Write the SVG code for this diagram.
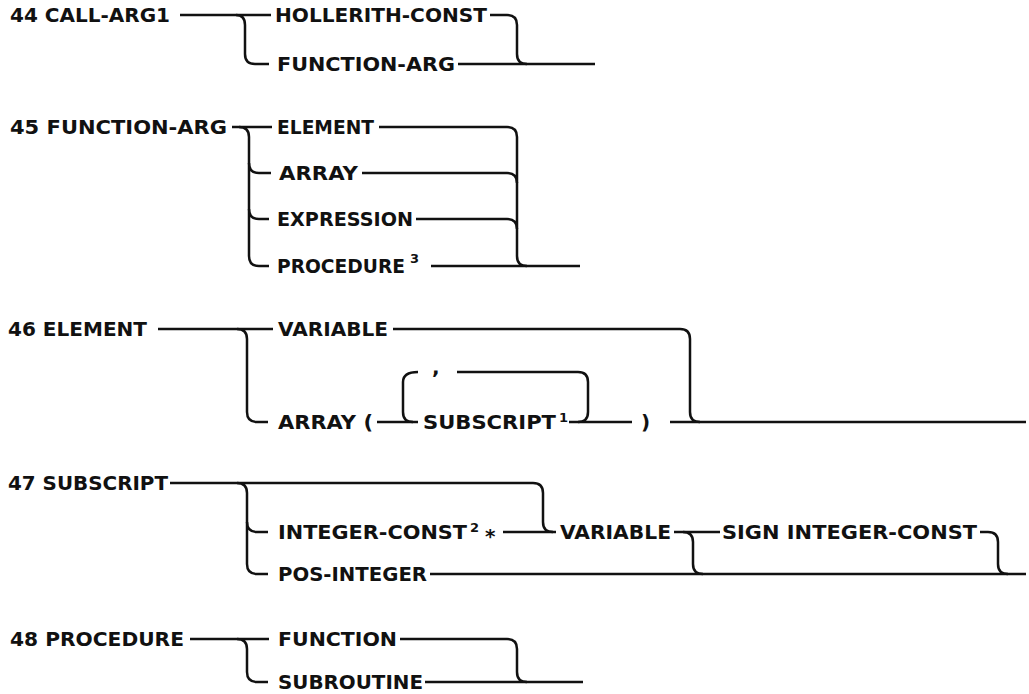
<svg xmlns="http://www.w3.org/2000/svg" width="1029" height="694" viewBox="0 0 1029 694">
<style>
text { font-family: "DejaVu Sans", "Liberation Sans", Arial, sans-serif; font-weight: bold; font-size: 20px; fill: #111; }
.sup { font-size: 13px; }
.conn path { fill: none; stroke: #111; stroke-width: 2.5; stroke-linecap: butt; stroke-linejoin: round; }
</style>
<rect width="1029" height="694" fill="#fff"/>
<g class="conn" id="connectors">
  <!-- 44 -->
  <path d="M180,15 H271"/>
  <path d="M236,15 Q245,15 245,25 V54 Q245,64 255,64 H269"/>
  <path d="M490,15 H507 Q517,15 517,25 V54 Q517,64 527,64"/>
  <path d="M458,64 H595"/>
  <!-- 45 -->
  <path d="M232,127 H272"/>
  <path d="M239,127 Q249,127 249,137 V256 Q249,266 259,266 H269"/>
  <path d="M249,163 Q249,173 259,173 H271"/>
  <path d="M249,209 Q249,219 259,219 H269"/>
  <path d="M379,127 H507 Q517,127 517,137 V256 Q517,266 527,266"/>
  <path d="M362,173 H507 Q517,173 517,183"/>
  <path d="M416,219 H507 Q517,219 517,229"/>
  <path d="M431,266 H580"/>
  <!-- 46 -->
  <path d="M158,329 H273"/>
  <path d="M237,329 Q247,329 247,339 V412 Q247,422 257,422 H268"/>
  <path d="M393,329 H680 Q690,329 690,339 V412 Q690,422 700,422"/>
  <path d="M670,422 H1026"/>
  <path d="M377,422 H418"/>
  <path d="M418,372 Q403,372 403,382 V412 Q403,422 413,422"/>
  <path d="M457,372 H578 Q588,372 588,382 V412 Q588,422 578,422"/>
  <path d="M569,422 H632"/>
  <!-- 47 -->
  <path d="M170,483 H533 Q543,483 543,493 V522 Q543,532 553,532"/>
  <path d="M237,483 Q247,483 247,493 V564 Q247,574 257,574 H268"/>
  <path d="M247,522 Q247,532 257,532 H268"/>
  <path d="M503,532 H556"/>
  <path d="M674,532 H720"/>
  <path d="M683,532 Q693,532 693,542 V564 Q693,574 703,574"/>
  <path d="M980,532 H988 Q998,532 998,542 V564 Q998,574 1008,574"/>
  <path d="M430,574 H1026"/>
  <!-- 48 -->
  <path d="M190,639 H269"/>
  <path d="M237,639 Q247,639 247,649 V672 Q247,682 257,682 H268"/>
  <path d="M400,639 H507 Q517,639 517,649 V672 Q517,682 527,682"/>
  <path d="M425,682 H583"/>
</g>
<g id="n44-call-arg1"><text x="10" y="22" textLength="160" lengthAdjust="spacingAndGlyphs">44 CALL-ARG1</text></g>
<g id="n44-hollerith"><text x="275" y="22" textLength="212" lengthAdjust="spacingAndGlyphs">HOLLERITH-CONST</text></g>
<g id="n44-function-arg"><text x="277" y="71" textLength="178" lengthAdjust="spacingAndGlyphs">FUNCTION-ARG</text></g>

<g id="n45-function-arg"><text x="10" y="134" textLength="217" lengthAdjust="spacingAndGlyphs">45 FUNCTION-ARG</text></g>
<g id="n45-element"><text x="277" y="134" textLength="97" lengthAdjust="spacingAndGlyphs">ELEMENT</text></g>
<g id="n45-array"><text x="279" y="180" textLength="79" lengthAdjust="spacingAndGlyphs">ARRAY</text></g>
<g id="n45-expression"><text x="277" y="226" textLength="136" lengthAdjust="spacingAndGlyphs">EXPRESSION</text></g>
<g id="n45-procedure"><text x="277" y="273" font-size="18" textLength="128" lengthAdjust="spacingAndGlyphs">PROCEDURE</text><text class="sup" x="410" y="263" font-size="14">3</text></g>

<g id="n46-element"><text x="8" y="336" textLength="139" lengthAdjust="spacingAndGlyphs">46 ELEMENT</text></g>
<g id="n46-variable"><text x="278" y="336" textLength="110" lengthAdjust="spacingAndGlyphs">VARIABLE</text></g>
<g id="n46-array"><text x="278" y="429" textLength="95" lengthAdjust="spacingAndGlyphs">ARRAY (</text></g>
<g id="n46-comma"><text x="432" y="374">,</text></g>
<g id="n46-subscript"><text x="423" y="429" textLength="133" lengthAdjust="spacingAndGlyphs">SUBSCRIPT</text><text class="sup" x="559" y="422">1</text></g>
<g id="n46-paren"><text x="641" y="429">)</text></g>

<g id="n47-subscript"><text x="8" y="490" textLength="160" lengthAdjust="spacingAndGlyphs">47 SUBSCRIPT</text></g>
<g id="n47-integer-const"><text x="278" y="539" textLength="189" lengthAdjust="spacingAndGlyphs">INTEGER-CONST</text><text class="sup" x="470" y="532" font-size="14">2</text><text x="485" y="543" font-size="15">*</text></g>
<g id="n47-variable"><text x="560" y="539" textLength="111" lengthAdjust="spacingAndGlyphs">VARIABLE</text></g>
<g id="n47-sign"><text x="722" y="539" textLength="255" lengthAdjust="spacingAndGlyphs">SIGN INTEGER-CONST</text></g>
<g id="n47-pos-integer"><text x="278" y="581" textLength="149" lengthAdjust="spacingAndGlyphs">POS-INTEGER</text></g>

<g id="n48-procedure"><text x="10" y="646" textLength="174" lengthAdjust="spacingAndGlyphs">48 PROCEDURE</text></g>
<g id="n48-function"><text x="278" y="646" textLength="119" lengthAdjust="spacingAndGlyphs">FUNCTION</text></g>
<g id="n48-subroutine"><text x="278" y="689" textLength="145" lengthAdjust="spacingAndGlyphs">SUBROUTINE</text></g>
</svg>
